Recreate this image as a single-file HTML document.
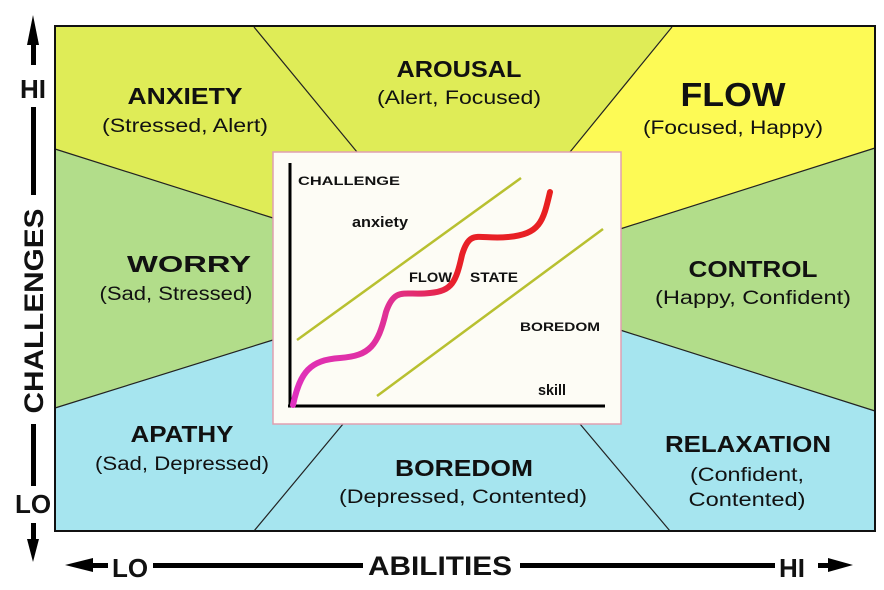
<!DOCTYPE html>
<html><head><meta charset="utf-8"><style>
html,body{margin:0;padding:0;background:#fff;}
svg{display:block;}
text{font-family:"Liberation Sans",sans-serif;font-weight:bold;fill:#111;}
.s{font-weight:normal;}
</style></head><body>
<svg width="884" height="590" viewBox="0 0 884 590" xmlns="http://www.w3.org/2000/svg">
<defs>
<linearGradient id="g" x1="0" y1="1" x2="1" y2="0">
<stop offset="0" stop-color="#e030c0"/><stop offset="0.45" stop-color="#e03090"/><stop offset="0.6" stop-color="#e8202a"/><stop offset="1" stop-color="#e82020"/>
</linearGradient>
</defs>
<rect x="55" y="26" width="820" height="505" fill="#a6e5ef"/>
<polygon points="55,26 672,26 570,152 273,152 273,218 55,149" fill="#dfec57"/>
<polygon points="672,26 875,26 875,148 620,229 620,152 570,152" fill="#fdfa55"/>
<polygon points="55,149 273,218 273,340 55,408" fill="#b2dd8a"/>
<polygon points="875,148 620,229 620,330 875,411" fill="#b2dd8a"/>
<g stroke="#222" stroke-width="1.2" fill="none">
<line x1="254" y1="27" x2="357" y2="152"/>
<line x1="55" y1="149" x2="273" y2="218"/>
<line x1="55" y1="408" x2="273" y2="340"/>
<line x1="254" y1="531" x2="343" y2="424"/>
<line x1="672" y1="27" x2="570" y2="152"/>
<line x1="875" y1="148" x2="620" y2="229"/>
<line x1="875" y1="411" x2="620" y2="330"/>
<line x1="580" y1="424" x2="670" y2="531"/>
</g>
<rect x="55" y="26" width="820" height="505" fill="none" stroke="#111" stroke-width="2"/>
<rect x="273" y="152" width="348" height="272" fill="#fdfcf5" stroke="#e0a0b0" stroke-width="1.5"/>
<line x1="290" y1="163" x2="290" y2="407" stroke="#000" stroke-width="3"/>
<line x1="288" y1="406" x2="605" y2="406" stroke="#000" stroke-width="3"/>
<line x1="297" y1="340" x2="521" y2="178" stroke="#b8c030" stroke-width="2.5"/>
<line x1="377" y1="396" x2="603" y2="229" stroke="#b8c030" stroke-width="2.5"/>
<path d="M293,405 C300,372 310,360 340,358 C370,356 378,345 386,312 C395,286 405,296 430,293 C452,291 456,282 462,255 C470,228 478,240 508,237 C540,234 543,222 550,192" fill="none" stroke="url(#g)" stroke-width="6" stroke-linecap="round"/>
<text x="298" y="185" font-size="12" textLength="102" lengthAdjust="spacingAndGlyphs">CHALLENGE</text>
<text x="352" y="227" font-size="15" textLength="56" lengthAdjust="spacingAndGlyphs">anxiety</text>
<text x="409" y="282" font-size="14" textLength="43" lengthAdjust="spacingAndGlyphs">FLOW</text>
<text x="470" y="282" font-size="14" textLength="48" lengthAdjust="spacingAndGlyphs">STATE</text>
<text x="520" y="331" font-size="12" textLength="80" lengthAdjust="spacingAndGlyphs">BOREDOM</text>
<text x="538" y="395" font-size="15" textLength="28" lengthAdjust="spacingAndGlyphs">skill</text>
<g text-anchor="middle" lengthAdjust="spacingAndGlyphs">
<text x="185" y="104" font-size="23" textLength="115" lengthAdjust="spacingAndGlyphs">ANXIETY</text>
<text x="185" y="132" font-size="19" class="s" textLength="166" lengthAdjust="spacingAndGlyphs">(Stressed, Alert)</text>
<text x="459" y="77" font-size="23" textLength="125" lengthAdjust="spacingAndGlyphs">AROUSAL</text>
<text x="459" y="104" font-size="19" class="s" textLength="164" lengthAdjust="spacingAndGlyphs">(Alert, Focused)</text>
<text x="733" y="106" font-size="33" textLength="105" lengthAdjust="spacingAndGlyphs">FLOW</text>
<text x="733" y="134" font-size="19" class="s" textLength="180" lengthAdjust="spacingAndGlyphs">(Focused, Happy)</text>
<text x="189" y="272" font-size="23" textLength="124" lengthAdjust="spacingAndGlyphs">WORRY</text>
<text x="176" y="300" font-size="19" class="s" textLength="153" lengthAdjust="spacingAndGlyphs">(Sad, Stressed)</text>
<text x="753" y="277" font-size="23" textLength="129" lengthAdjust="spacingAndGlyphs">CONTROL</text>
<text x="753" y="304" font-size="19" class="s" textLength="196" lengthAdjust="spacingAndGlyphs">(Happy, Confident)</text>
<text x="182" y="442" font-size="23" textLength="103" lengthAdjust="spacingAndGlyphs">APATHY</text>
<text x="182" y="470" font-size="19" class="s" textLength="174" lengthAdjust="spacingAndGlyphs">(Sad, Depressed)</text>
<text x="464" y="476" font-size="23" textLength="138" lengthAdjust="spacingAndGlyphs">BOREDOM</text>
<text x="463" y="503" font-size="19" class="s" textLength="248" lengthAdjust="spacingAndGlyphs">(Depressed, Contented)</text>
<text x="748" y="452" font-size="23" textLength="166" lengthAdjust="spacingAndGlyphs">RELAXATION</text>
<text x="747" y="481" font-size="19" class="s" textLength="114" lengthAdjust="spacingAndGlyphs">(Confident,</text>
<text x="747" y="506" font-size="19" class="s" textLength="117" lengthAdjust="spacingAndGlyphs">Contented)</text>
</g>
<polygon points="33,15 27,45 39,45" fill="#000"/>
<rect x="31" y="43" width="5" height="22" fill="#000"/>
<text x="33" y="98" font-size="26" text-anchor="middle">HI</text>
<rect x="31" y="107" width="5" height="88" fill="#000"/>
<text transform="translate(43,311) rotate(-90)" font-size="27" text-anchor="middle" textLength="205" lengthAdjust="spacingAndGlyphs">CHALLENGES</text>
<rect x="31" y="424" width="5" height="62" fill="#000"/>
<text x="33" y="513" font-size="26" text-anchor="middle">LO</text>
<rect x="31" y="523" width="5" height="18" fill="#000"/>
<polygon points="33,562 27,539 39,539" fill="#000"/>
<polygon points="65,565 93,558 93,572" fill="#000"/>
<rect x="92" y="563" width="16" height="5" fill="#000"/>
<text x="130" y="577" font-size="26" text-anchor="middle">LO</text>
<rect x="153" y="563" width="210" height="5" fill="#000"/>
<text x="440" y="575" font-size="27" text-anchor="middle" textLength="144" lengthAdjust="spacingAndGlyphs">ABILITIES</text>
<rect x="520" y="563" width="255" height="5" fill="#000"/>
<text x="792" y="577" font-size="26" text-anchor="middle">HI</text>
<rect x="818" y="563" width="12" height="5" fill="#000"/>
<polygon points="853,565 828,558 828,572" fill="#000"/>
</svg>
</body></html>
